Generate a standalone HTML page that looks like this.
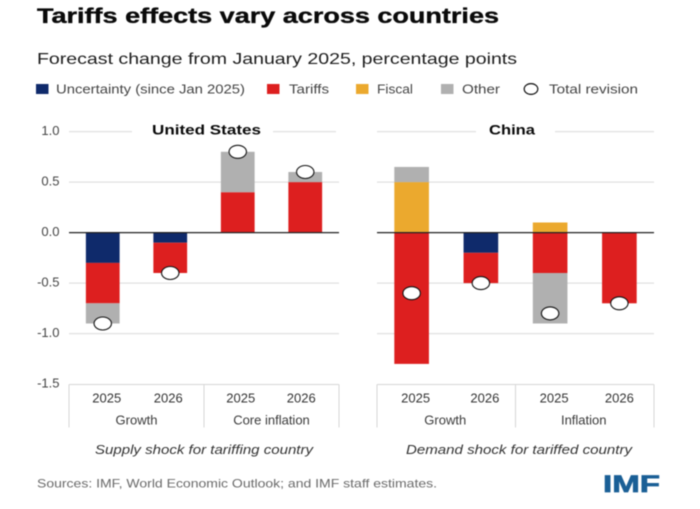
<!DOCTYPE html>
<html lang="en">
<head>
<meta charset="utf-8">
<title>Tariffs effects vary across countries</title>
<style>
html,body{margin:0;padding:0;background:#fff;}
body{width:700px;height:509px;overflow:hidden;}
svg{display:block;font-family:"Liberation Sans",sans-serif;filter:blur(0.45px);}
</style>
</head>
<body>
<svg id="chart" xmlns="http://www.w3.org/2000/svg" width="700" height="509" viewBox="0 0 700 509">
  <rect width="700" height="509" fill="#fff"/>
  <text x="37" y="23" font-size="21" font-weight="700" fill="#0a0a0a" stroke="#0a0a0a" stroke-width="0.35" textLength="462" lengthAdjust="spacingAndGlyphs">Tariffs effects vary across countries</text>
  <text x="37" y="64" font-size="16" fill="#1c1c1c" textLength="480" lengthAdjust="spacingAndGlyphs">Forecast change from January 2025, percentage points</text>

  <g font-size="13" fill="#444">
    <g>
      <rect x="36" y="84" width="12.5" height="10" fill="#0f2a6b"/>
      <text x="56" y="93.5" textLength="189" lengthAdjust="spacingAndGlyphs">Uncertainty (since Jan 2025)</text>
    </g>
    <g>
      <rect x="267" y="84" width="12.5" height="10" fill="#dd1f1f"/>
      <text x="289" y="93.5" textLength="40" lengthAdjust="spacingAndGlyphs">Tariffs</text>
    </g>
    <g>
      <rect x="356" y="84" width="12.5" height="10" fill="#eba92e"/>
      <text x="377" y="93.5" textLength="36" lengthAdjust="spacingAndGlyphs">Fiscal</text>
    </g>
    <g>
      <rect x="441" y="84" width="12.5" height="10" fill="#b0b0b0"/>
      <text x="462" y="93.5" textLength="38" lengthAdjust="spacingAndGlyphs">Other</text>
    </g>
    <g>
      <ellipse cx="531" cy="89" rx="6.8" ry="5.4" fill="#fff" stroke="#111" stroke-width="1.2"/>
      <text x="549" y="93.5" textLength="89" lengthAdjust="spacingAndGlyphs">Total revision</text>
    </g>
  </g>

  <g id="plot"></g>

  <text x="37" y="487.5" font-size="12" fill="#6a6a6a" textLength="400" lengthAdjust="spacingAndGlyphs">Sources: IMF, World Economic Outlook; and IMF staff estimates.</text>
  <text x="603" y="492" font-size="24" font-weight="700" fill="#1a5f96" stroke="#1a5f96" stroke-width="0.7" textLength="57" lengthAdjust="spacingAndGlyphs">IMF</text>
</svg>
<script>
// ---- Data ----
const yTicks = [1.0, 0.5, 0.0, -0.5, -1.0, -1.5];
const yTickLabels = ["1.0", "0.5", "0.0", "-0.5", "-1.0", "-1.5"];

const usYears = ["2025", "2026", "2025", "2026"];
const usGroups = ["Growth", "Core inflation"];
const usUncertainty = [-0.3, -0.1, 0, 0];
const usTariffs = [-0.4, -0.3, 0.4, 0.5];
const usFiscal = [0, 0, 0, 0];
const usOther = [-0.2, 0, 0.4, 0.1];
const usTotal = [-0.9, -0.4, 0.8, 0.6];

const cnYears = ["2025", "2026", "2025", "2026"];
const cnGroups = ["Growth", "Inflation"];
const cnUncertainty = [0, -0.2, 0, 0];
const cnTariffs = [-1.3, -0.3, -0.4, -0.7];
const cnFiscal = [0.5, 0, 0.1, 0];
const cnOther = [0.15, 0, -0.5, 0];
const cnTotal = [-0.6, -0.5, -0.8, -0.7];

// ---- Layout ----
const NS = "http://www.w3.org/2000/svg";
const plot = document.getElementById("plot");
const yScale = v => 232.6 - v * 101;
const COLORS = {uncertainty: "#0f2a6b", tariffs: "#dd1f1f", fiscal: "#eba92e", other: "#b0b0b0"};
const TEXT = "#444";

function make(tag, attrs, parent, text) {
  const el = document.createElementNS(NS, tag);
  for (const k in attrs) el.setAttribute(k, attrs[k]);
  if (text !== undefined) el.textContent = text;
  (parent || plot).appendChild(el);
  return el;
}

// y-axis tick labels
yTicks.forEach((t, i) => {
  const el = make("text", {x: 59.5, y: yScale(t) + 3.5, "text-anchor": "end", "font-size": 13, fill: TEXT}, plot, yTickLabels[i]);
  
  
});

function drawPanel(p) {
  const g = make("g", {});
  
  

  const step = (p.x1 - p.x0) / p.years.length;
  const xCenter = i => p.x0 + step * (i + 0.5);
  const barW = step * 0.5;

  // gridlines
  yTicks.forEach(t => {
    if (t === 0 || t === -1.5) return;
    const segs = t === 1.0 ? p.topGrid : [[p.x0, p.x1]];
    segs.forEach(s => {
      const ln = make("line", {x1: s[0], x2: s[1], y1: yScale(t), y2: yScale(t), stroke: "#e1e1e1", "stroke-width": 1.2}, g);
      
      
    });
  });

  // panel title
  const title = make("text", {x: p.titleX, y: 134.5, "text-anchor": "middle", "font-size": 13.5, "font-weight": 700, fill: "#0a0a0a", textLength: p.titleW, lengthAdjust: "spacingAndGlyphs"}, g, p.title);
  
  

  // stacked bars
  p.years.forEach((_, i) => {
    let pos = 0, neg = 0;
    p.series.forEach(s => {
      const v = s.values[i];
      if (!v) return;
      const start = v > 0 ? pos : neg;
      const end = start + v;
      if (v > 0) pos = end; else neg = end;
      const r = make("rect", {
        x: xCenter(i) - barW / 2,
        y: Math.min(yScale(start), yScale(end)),
        width: barW,
        height: Math.abs(yScale(end) - yScale(start)),
        fill: COLORS[s.name]
      }, g);
      
      
    });
  });

  // zero line
  const zero = make("line", {x1: p.x0, x2: p.x1, y1: yScale(0), y2: yScale(0), stroke: "#222", "stroke-width": 1.2}, g);
  
  

  // total revision markers
  p.total.forEach((v, i) => {
    const m = make("ellipse", {cx: xCenter(i), cy: yScale(v), rx: 8.7, ry: 6.5, fill: "#fff", stroke: "#111", "stroke-width": 1.1}, g);
    
    
  });

  // category frame
  const xMid = (p.x0 + p.x1) / 2;
  const frameTop = make("line", {x1: p.x0, x2: p.x1, y1: 384.5, y2: 384.5, stroke: "#d6d6d6", "stroke-width": 1}, g);
  
  
  [p.x0, xMid, p.x1].forEach(x => {
    const d = make("line", {x1: x, x2: x, y1: 384.5, y2: 427.5, stroke: "#d6d6d6", "stroke-width": 1}, g);
    
    
  });

  // year labels
  p.years.forEach((y, i) => {
    const t = make("text", {x: xCenter(i) + p.yearNudge[i], y: 402.5, "text-anchor": "middle", "font-size": 13, fill: "#333"}, g, y);
    
    
  });

  // group labels
  p.groups.forEach((label, i) => {
    const t = make("text", {x: p.x0 + (p.x1 - p.x0) * (i + 0.5) / p.groups.length + p.groupNudge, y: 424.5, "text-anchor": "middle", "font-size": 13, fill: "#3a3a3a"}, g, label);
    
    
  });

  // shock caption
  const c = make("text", {x: p.captionX, y: 454, "text-anchor": "middle", "font-size": 13, "font-style": "italic", fill: "#333", textLength: p.captionW, lengthAdjust: "spacingAndGlyphs"}, g, p.caption);
  
  
}

drawPanel({
  key: "united-states", title: "United States", titleX: 206.5, titleW: 109,
  x0: 69, x1: 339, topGrid: [[69, 132], [273, 336]],
  years: usYears, groups: usGroups, total: usTotal,
  series: [
    {name: "uncertainty", values: usUncertainty},
    {name: "tariffs", values: usTariffs},
    {name: "fiscal", values: usFiscal},
    {name: "other", values: usOther}
  ],
  yearNudge: [4, -2, 3, -4], groupNudge: 0,
  caption: "Supply shock for tariffing country", captionX: 204, captionW: 218
});

drawPanel({
  key: "china", title: "China", titleX: 512, titleW: 46,
  x0: 377, x1: 654, topGrid: [[377, 476], [555, 654]],
  years: cnYears, groups: cnGroups, total: cnTotal,
  series: [
    {name: "uncertainty", values: cnUncertainty},
    {name: "tariffs", values: cnTariffs},
    {name: "fiscal", values: cnFiscal},
    {name: "other", values: cnOther}
  ],
  yearNudge: [4, 4, 4, 0], groupNudge: -1,
  caption: "Demand shock for tariffed country", captionX: 519, captionW: 226
});
</script>
</body>
</html>
